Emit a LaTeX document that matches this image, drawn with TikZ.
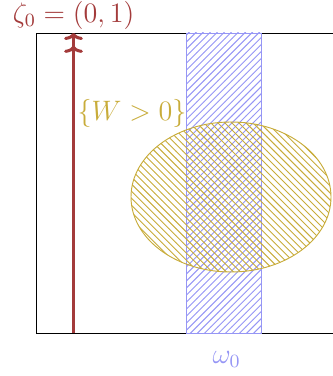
\documentclass[tikz,border=0pt]{standalone}
\usepackage{amsmath}
\usepackage{amssymb}
\usepackage{tikz}
\usetikzlibrary{positioning, patterns, arrows.meta}

\definecolor{zetared}{RGB}{163,59,59}
\definecolor{wyellow}{RGB}{200,172,58}
\definecolor{omegablue}{RGB}{150,150,245}

\begin{document}
\begin{tikzpicture}[every node/.style={font=\large}]
\useasboundingbox (-0.54,-0.645) rectangle (4.44,4.995);
% box
\draw (0,0) rectangle (4.5,4.5);
% strip omega_0
\draw[omegablue, pattern=north east lines, pattern color=omegablue] (2.25,0) rectangle (3.375,4.5);
\node[omegablue] (omega) at (2.86,-0.4) {$\omega_0$};
% set W>0
\draw[wyellow, pattern=north west lines, pattern color=wyellow] (2.925,2.04) ellipse (1.5cm and 1.125cm);
\node[wyellow] (wpos) at (1.44,3.3) {$\{W>0\}$};
% zeta_0
\coordinate (zetabot) at (0.5625,0);
\coordinate (zetatop) at (0.5625,4.5);
\draw[zetared, line width=1.3pt, -{To[length=3pt,width=8pt,sep=2.5pt]To[length=3pt,width=8pt]}] (zetabot) -- (zetatop);
\node[zetared] (zeta) at (0.5625,4.77) {$\zeta_0=(0,1)$};
\end{tikzpicture}
\end{document}
